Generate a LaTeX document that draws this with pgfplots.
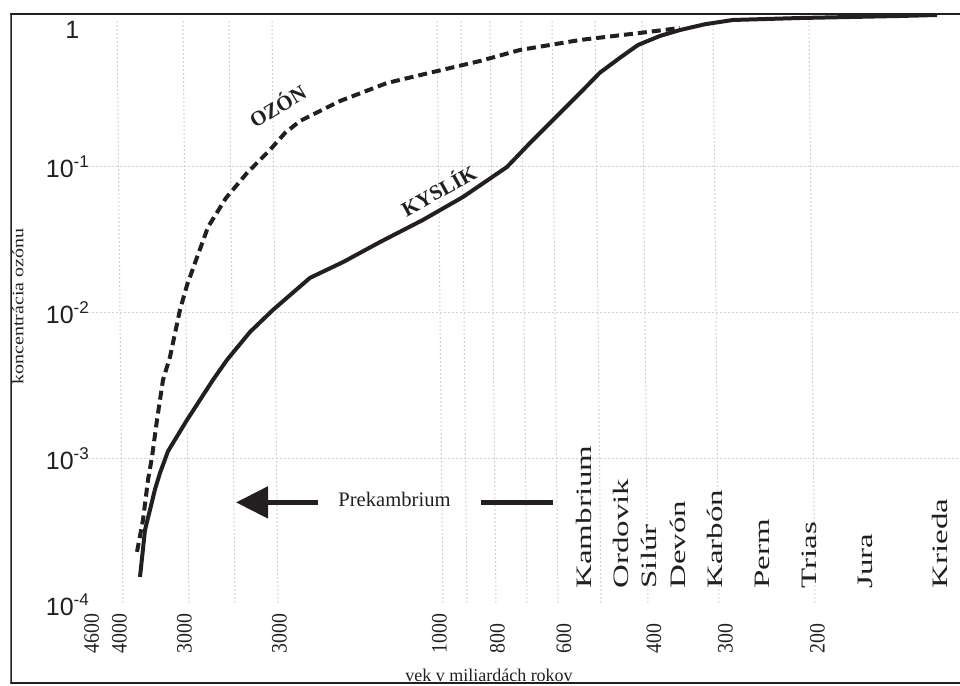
\documentclass[border=0pt]{standalone}
\usepackage{fontspec}
\setmainfont{Liberation Serif}
\newfontfamily\arial{Liberation Sans}
\usepackage{graphicx}
\usepackage{pgfplots}
\pgfplotsset{compat=1.18}
\usetikzlibrary{arrows.meta}
\definecolor{ink}{RGB}{35,31,32}
\newcommand\xt[1]{\scalebox{0.9}[1]{#1}}
\newcommand\ex[1]{10\raisebox{5pt}{\fontsize{8.5}{8.5}\selectfont #1}}
\tikzset{gridl/.style={gray!35, line width=0.5pt, dash pattern=on 1pt off 1pt}}
\begin{document}
\begin{tikzpicture}
\begin{axis}[
  scale only axis,
  width=474.75pt, height=335pt,
  xmin=10.5, xmax=960,
  ymode=log, ymin=2.92e-5, ymax=1.134,
  axis line style={draw=none},
  tick style={draw=none},
  major tick length=0pt, minor tick length=0pt,
  xtick={91.6,119.5,184.5,279.5,439.5,497.5,564,654,725.5,817.5},
  xticklabels={\xt{4600},\xt{4000},\xt{3000},\xt{3000},\xt{1000},\xt{800},\xt{600},\xt{400},\xt{300},\xt{200}},
  xticklabel style={inner sep=0pt, yshift=14.5pt, rotate=90, anchor=west, font=\fontsize{11}{11}\selectfont, text=ink},
  ytick={1e-4,1e-3,1e-2,1e-1},
  yticklabels={\ex{-4},\ex{-3},\ex{-2},\ex{-1}},
  yticklabel style={inner sep=0pt, anchor=west, xshift=17.5pt, font=\arial\fontsize{12.5}{12.5}\selectfont, text=ink},
  extra y ticks={1}, extra y tick labels={1},
  extra y tick style={yticklabel style={xshift=9.75pt, yshift=-4.5pt}},
]
% vertical grid lines
\draw[gridl] (axis cs:117,1) -- (axis cs:123,1e-4);
\draw[gridl] (axis cs:183,1) -- (axis cs:189,1e-4);
\draw[gridl] (axis cs:229,1) -- (axis cs:235,1e-4);
\draw[gridl] (axis cs:272,1) -- (axis cs:278,1e-4);
\draw[gridl] (axis cs:437,1) -- (axis cs:443,1e-4);
\draw[gridl] (axis cs:461,1) -- (axis cs:467,1e-4);
\draw[gridl] (axis cs:490,1) -- (axis cs:496,1e-4);
\draw[gridl] (axis cs:521,1) -- (axis cs:527,1e-4);
\draw[gridl] (axis cs:552,1) -- (axis cs:558,1e-4);
\draw[gridl] (axis cs:595,1) -- (axis cs:601,1e-4);
\draw[gridl] (axis cs:642,1) -- (axis cs:648,1e-4);
\draw[gridl] (axis cs:713,1) -- (axis cs:719,1e-4);
\draw[gridl] (axis cs:809,1) -- (axis cs:815,1e-4);
% horizontal grid lines
\draw[gridl] (axis cs:88,1e-1) -- (axis cs:960,1e-1);
\draw[gridl] (axis cs:88,1e-2) -- (axis cs:960,1e-2);
\draw[gridl] (axis cs:88,1e-3) -- (axis cs:960,1e-3);

% KYSLIK (solid)
\addplot[ink, line width=2pt, line join=round] coordinates {
(140,1.556e-4) (145,3.26e-4) (150,4.48e-4) (155,6.2e-4) (160,8.02e-4) (168,1.13e-3)
(187,1.85e-3) (213,3.48e-3) (227,4.77e-3) (250,7.41e-3) (273,1.05e-2)
(310,1.74e-2) (343,2.23e-2) (380,3.06e-2) (423,4.34e-2) (463,6.23e-2)
(507,0.1) (530,0.146) (553,0.210) (580,0.321) (600,0.443) (620,0.560)
(638,0.685) (660,0.790) (680,0.867) (705,0.950) (733,1.016) (800,1.048)
(900,1.082) (937,1.099)
};
% OZON (dashed)
\addplot[ink, line width=2pt, dash pattern=on 4.5pt off 2.5pt] coordinates {
(137,2.31e-4) (143,3.82e-4) (148,7.18e-4) (152,1.03e-3) (157,1.85e-3)
(163,3.48e-3) (170,5.00e-3) (180,1.05e-2) (187,1.55e-2) (195,2.20e-2)
(208,3.88e-2) (226,6.13e-2) (247,9.10e-2) (270,0.131) (285,0.171)
(300,0.2065) (340,0.283) (387,0.376) (433,0.447) (480,0.532)
(520,0.633) (580,0.741) (640,0.828) (680,0.895)
};

% curve labels
\node[rotate=31, inner sep=0pt, text=ink, font=\bfseries\fontsize{10.5}{10.5}\selectfont] at (axis cs:277,0.265) {OZÓN};
\node[rotate=29, inner sep=0pt, text=ink, font=\bfseries\fontsize{10.5}{10.5}\selectfont] at (axis cs:438,0.0700) {KYSLÍK};

% Prekambrium arrow
\draw[ink, line width=2.5pt, -{Triangle[length=16pt, width=15.5pt]}] (axis cs:318,5.04e-4) -- (axis cs:236,5.04e-4);
\draw[ink, line width=2.5pt] (axis cs:481,5.04e-4) -- (axis cs:553,5.04e-4);
\node[inner sep=0pt, text=ink, font=\fontsize{10.3}{10.3}\selectfont] at (axis cs:394.5,5.24e-4) {Prekambrium};

% geological periods
\node[rotate=90, anchor=west, inner sep=0pt, text=ink, font=\fontsize{11}{11}\selectfont] at (axis cs:583.5,1.288e-4) {\scalebox{1.5}[1]{Kambrium}};
\node[rotate=90, anchor=west, inner sep=0pt, text=ink, font=\fontsize{11}{11}\selectfont] at (axis cs:620.5,1.288e-4) {\scalebox{1.5}[1]{Ordovik}};
\node[rotate=90, anchor=west, inner sep=0pt, text=ink, font=\fontsize{11}{11}\selectfont] at (axis cs:648.5,1.288e-4) {\scalebox{1.5}[1]{Silúr}};
\node[rotate=90, anchor=west, inner sep=0pt, text=ink, font=\fontsize{11}{11}\selectfont] at (axis cs:677.5,1.288e-4) {\scalebox{1.5}[1]{Devón}};
\node[rotate=90, anchor=west, inner sep=0pt, text=ink, font=\fontsize{11}{11}\selectfont] at (axis cs:714.5,1.288e-4) {\scalebox{1.5}[1]{Karbón}};
\node[rotate=90, anchor=west, inner sep=0pt, text=ink, font=\fontsize{11}{11}\selectfont] at (axis cs:762,1.288e-4) {\scalebox{1.5}[1]{Perm}};
\node[rotate=90, anchor=west, inner sep=0pt, text=ink, font=\fontsize{11}{11}\selectfont] at (axis cs:809.5,1.288e-4) {\scalebox{1.5}[1]{Trias}};
\node[rotate=90, anchor=west, inner sep=0pt, text=ink, font=\fontsize{11}{11}\selectfont] at (axis cs:865.5,1.288e-4) {\scalebox{1.5}[1]{Jura}};
\node[rotate=90, anchor=west, inner sep=0pt, text=ink, font=\fontsize{11}{11}\selectfont] at (axis cs:939.5,1.288e-4) {\scalebox{1.5}[1]{Krieda}};

% axis titles
\node[rotate=90, inner sep=0pt, text=ink, font=\fontsize{8}{8}\selectfont] at (axis cs:18,1.109e-2) {\scalebox{1.25}[1]{koncentrácia ozónu}};
\node[anchor=base, inner sep=0pt, text=ink, font=\fontsize{9}{9}\selectfont] at (axis cs:489,3.0e-5) {vek v miliardách rokov};

% frame
\draw[ink, line width=1.6pt] (rel axis cs:0,1) -- (rel axis cs:1,1);
\draw[ink, line width=1.3pt] (rel axis cs:0,0) -- (rel axis cs:0,1);
\draw[ink, line width=0.8pt] (rel axis cs:0,0) -- (rel axis cs:1,0);
\end{axis}
\path ([xshift=-5.25pt,yshift=-1.5pt]current axis.south west) rectangle ([yshift=6.5pt]current axis.north east);
\end{tikzpicture}
\end{document}
